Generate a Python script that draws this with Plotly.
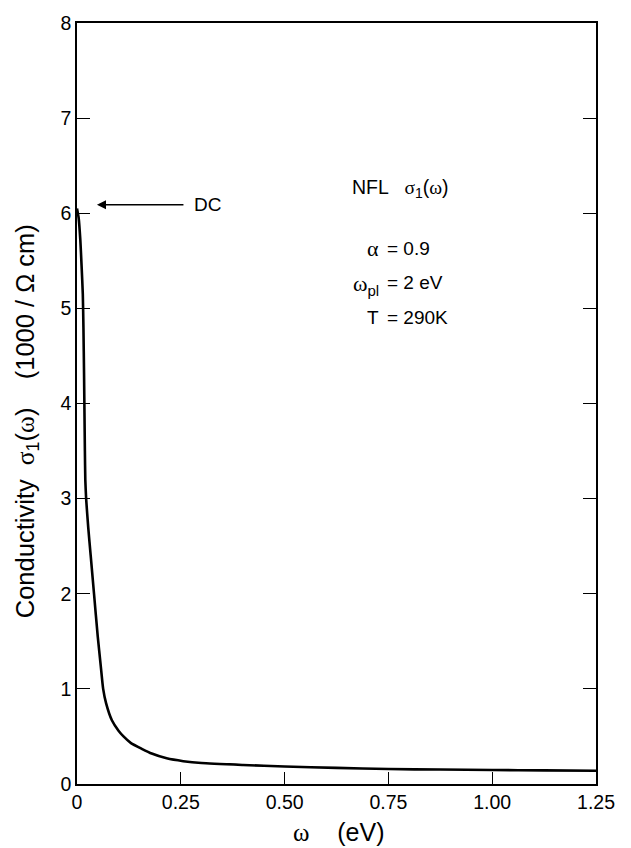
import plotly.graph_objects as go

# Optical conductivity sigma_1(omega) of a nested Fermi liquid (NFL), units of 1000 / (Ohm cm)
omega_ev = [0.000, 0.004, 0.008, 0.011, 0.014, 0.0155, 0.017, 0.018, 0.019, 0.020,
            0.022, 0.027, 0.033, 0.041, 0.050, 0.057, 0.063, 0.070, 0.084, 0.100,
            0.112, 0.130, 0.156, 0.180, 0.216, 0.256, 0.300, 0.400, 0.500, 0.625,
            0.750, 0.875, 1.000, 1.125, 1.250]
sigma1 = [6.05, 5.95, 5.72, 5.45, 5.15, 4.80, 4.30, 3.90, 3.50, 3.20,
          3.00, 2.70, 2.40, 2.00, 1.55, 1.25, 1.00, 0.85, 0.67, 0.56,
          0.50, 0.43, 0.37, 0.32, 0.27, 0.24, 0.22, 0.20, 0.184, 0.17,
          0.157, 0.152, 0.147, 0.143, 0.14]

x_ticks = [0, 0.25, 0.5, 0.75, 1.0, 1.25]
x_tick_text = ["0", "0.25", "0.50", "0.75", "1.00", "1.25"]
y_ticks = [0, 1, 2, 3, 4, 5, 6, 7, 8]

dc_value = 6.09

W, H = 631, 848
L, R, T, B = 77, 35, 12, 64
pw, ph = W - L - R, H - T - B


def px(x):
    return (x - L) / pw


def py(y):
    return (H - B - y) / ph


SANS = "Liberation Sans, Arial, Helvetica, sans-serif"
SERIF = "Liberation Serif, Times New Roman, serif"


def g(ch, size):
    """Greek letter set in a serif face at an explicit size."""
    return f'<span style="font-family:{SERIF};font-size:{size}px">{ch}</span>'


def sub(t, size):
    return f'<sub><span style="font-size:{size}px">{t}</span></sub>'


def label(x, y, text, size=19, xanchor="center", **kw):
    return dict(xref="paper", yref="paper", x=px(x), y=py(y), text=text,
                xanchor=xanchor, yanchor="middle", showarrow=False,
                font=dict(family=SANS, size=size, color="black"), **kw)


fig = go.Figure()
fig.add_trace(go.Scatter(
    x=omega_ev, y=sigma1, mode="lines",
    line=dict(color="black", width=2.6, shape="spline", smoothing=0.5),
    hoverinfo="skip", showlegend=False,
))

axis_common = dict(
    showgrid=False, zeroline=False, showline=True, linecolor="black", linewidth=1.5,
    ticks="inside", tickcolor="black", tickwidth=1.3,
    tickfont=dict(family=SANS, size=19.5, color="black"),
)
fig.update_xaxes(range=[0, 1.25], tickvals=x_ticks, ticktext=x_tick_text,
                 ticklen=12, mirror=True, **axis_common)
fig.update_yaxes(range=[0, 8], tickvals=y_ticks, ticklen=13, mirror="ticks",
                 **axis_common)

annotations = [
    # axis titles
    label(27, 416,
          f"Conductivity  {g('σ', 25.5)}{sub('1', 18)}({g('ω', 25.5)})    (1000 / Ω cm)",
          size=25.5, textangle=-90),
    label(338, 833, f"{g('ω', 25)}    (eV)", size=25),
    # parameter block
    label(350, 180, f"NFL   {g('σ', 19.5)}{sub('1', 14)}({g('ω', 19.5)})",
          size=19.5, xanchor="left"),
    label(381, 241, g("α", 22), size=22, xanchor="right"),
    label(385, 241, "= 0.9", xanchor="left"),
    label(381, 278, f"{g('ω', 22)}{sub('pl', 15)}", size=22, xanchor="right"),
    label(385, 275, "= 2 eV", xanchor="left"),
    label(381, 311, "T", xanchor="right"),
    label(385, 311, "= 290K", xanchor="left"),
    # DC marker
    dict(x=0.048, y=dc_value, ax=0.26, ay=dc_value, xref="x", yref="y",
         axref="x", ayref="y", text="", showarrow=True,
         arrowhead=2, arrowsize=1.3, arrowwidth=1.4, arrowcolor="black"),
    dict(x=0.277, y=dc_value, xref="x", yref="y", xanchor="left", yanchor="middle",
         text="DC", showarrow=False, font=dict(family=SANS, size=19, color="black")),
]

fig.update_layout(
    width=W, height=H,
    margin=dict(l=L, r=R, t=T, b=B),
    paper_bgcolor="white", plot_bgcolor="white",
    annotations=annotations,
)

fig.write_html("out.html")
